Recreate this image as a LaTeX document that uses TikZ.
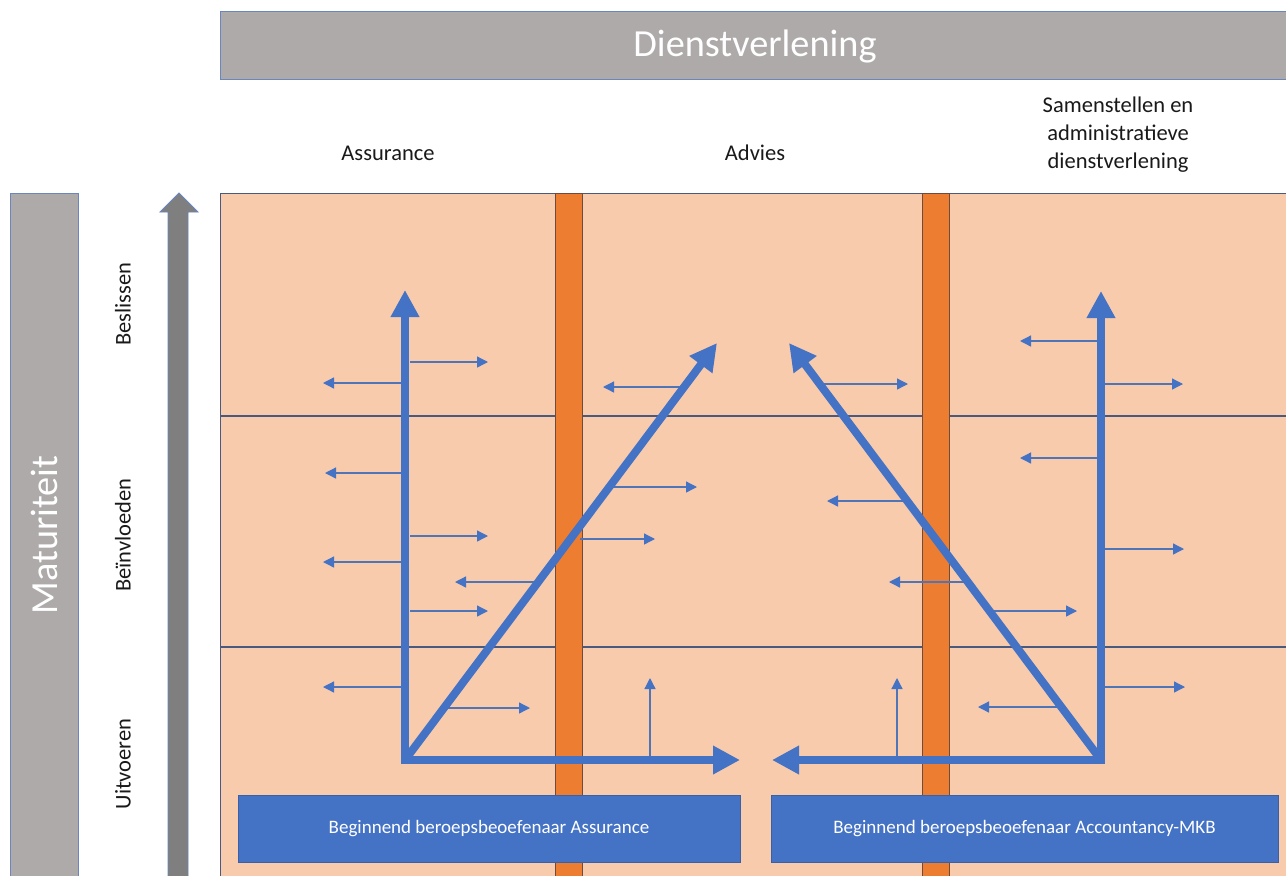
\documentclass[tikz,border=0pt]{standalone}
\usepackage{fontspec}
\setmainfont{Carlito}
\usetikzlibrary{arrows.meta}
\definecolor{peach}{HTML}{F8CBAD}
\definecolor{orng}{HTML}{ED7D31}
\definecolor{bblue}{HTML}{4472C4}
\definecolor{hgray}{HTML}{AEAAAA}
\definecolor{dgray}{HTML}{7F7F7F}
\definecolor{slate}{HTML}{4A5A7E}
\definecolor{obrd}{HTML}{6E4B3A}
\definecolor{gborder}{HTML}{6A86BE}
\begin{document}
\begin{tikzpicture}[x=1pt,y=-1pt,
  lbl/.style={font=\fontsize{22.5}{28}\selectfont, text=black!90, inner sep=0pt},
  biglbl/.style={font=\fontsize{38.3}{44}\selectfont, text=white, inner sep=0pt},
  graypanel/.style={fill=hgray, draw=gborder, line width=1pt},
  orbar/.style={fill=orng, draw=obrd, line width=1pt},
  divline/.style={draw=slate, line width=1.2pt},
  thinarr/.style={draw=bblue!80!gray, line width=1.3pt, -{Triangle[length=11pt,width=11pt,color=bblue]}},
  bigline/.style={draw=bblue, line width=8pt, line join=miter},
  bluebox/.style={fill=bblue, draw=bblue!85!black, line width=0.8pt, text=white,
    font=\fontsize{19}{22}\selectfont, minimum height=67pt, inner sep=0pt}
]
\useasboundingbox (0,0) rectangle (1286,876);

% header
\node[graypanel, minimum width=1070pt, minimum height=68pt, inner sep=0pt] (hdr) at (755,45) {};
\node[biglbl] (hdrtxt) at (755,46) {Dienstverlening};

% column labels
\node[lbl] (colA) at (388,153) {Assurance};
\node[lbl] (colB) at (755,153) {Advies};
\node[lbl, align=center] (colC) at (1118,135) {Samenstellen en\\administratieve\\dienstverlening};

% maturity panel
\draw[graypanel] (10,193) rectangle (78,890);
\node[biglbl, rotate=90] (mat) at (44,535) {Maturiteit};

% row labels
\node[lbl, rotate=90] (rowB) at (123,304) {Beslissen};
\node[lbl, rotate=90] (rowI) at (123,535) {Beïnvloeden};
\node[lbl, rotate=90] (rowU) at (123,764) {Uitvoeren};

% gray up arrow
\draw[fill=dgray, draw=gborder, line width=0.9pt]
  (168,890) -- (168,212) -- (160,212) -- (179,193) -- (198,212) -- (188,212) -- (188,890) -- cycle;

% grid
\draw[fill=peach, draw=slate, line width=1pt] (220,193) rectangle (1290,890);
\draw[divline] (220,416) -- (1290,416);
\draw[divline] (220,647) -- (1290,647);

% orange bars
\draw[orbar] (555,193) rectangle (582,890);
\draw[orbar] (922,193) rectangle (949,890);

% thin arrows column 1
\draw[thinarr] (410,362) -- (488,362);
\draw[thinarr] (404,383) -- (323,383);
\draw[thinarr] (404,473) -- (325,473);
\draw[thinarr] (410,536) -- (488,536);
\draw[thinarr] (404,562) -- (323,562);
\draw[thinarr] (536,582) -- (455,582);
\draw[thinarr] (410,611) -- (488,611);
\draw[thinarr] (404,687) -- (323,687);
\draw[thinarr] (447,708) -- (530,708);
% column 2
\draw[thinarr] (682,387) -- (603,387);
\draw[thinarr] (611,487) -- (697,487);
\draw[thinarr] (580,539) -- (655,539);
\draw[thinarr] (650,760) -- (650,678);
\draw[thinarr] (897,760) -- (897,678);
\draw[thinarr] (821,384) -- (908,384);
\draw[thinarr] (905,501) -- (827,501);
\draw[thinarr] (965,582) -- (889,582);
% column 3
\draw[thinarr] (1100,341) -- (1020,341);
\draw[thinarr] (1102,384) -- (1183,384);
\draw[thinarr] (1100,458) -- (1020,458);
\draw[thinarr] (1102,549) -- (1184,549);
\draw[thinarr] (989,611) -- (1077,611);
\draw[thinarr] (1102,687) -- (1185,687);
\draw[thinarr] (1059,707) -- (978,707);

% big arrows
\coordinate (L0) at (405,760);
\coordinate (Ltop) at (405,290);
\coordinate (Lright) at (740,760);
\coordinate (Ldiag) at (717,343);
\coordinate (R0) at (1101,760);
\coordinate (Rtop) at (1101,291);
\coordinate (Rleft) at (772,760);
\coordinate (Rdiag) at (789,343);
\draw[bigline, {Triangle[length=27pt,width=27pt]}-{Triangle[length=27pt,width=27pt]}] (Ltop) -- (L0) -- (Lright);
\draw[bigline, -{Triangle[length=27pt,width=27pt]}] (L0) -- (Ldiag);
\draw[bigline, {Triangle[length=27pt,width=27pt]}-{Triangle[length=27pt,width=27pt]}] (Rtop) -- (R0) -- (Rleft);
\draw[bigline, -{Triangle[length=27pt,width=27pt]}] (R0) -- (Rdiag);

% bottom boxes
\node[bluebox, minimum width=502pt] (boxA) at (489,828.5) {Beginnend beroepsbeoefenaar Assurance};
\node[bluebox, minimum width=507pt] (boxB) at (1024.5,828.5) {Beginnend beroepsbeoefenaar Accountancy-MKB};
\end{tikzpicture}
\end{document}
